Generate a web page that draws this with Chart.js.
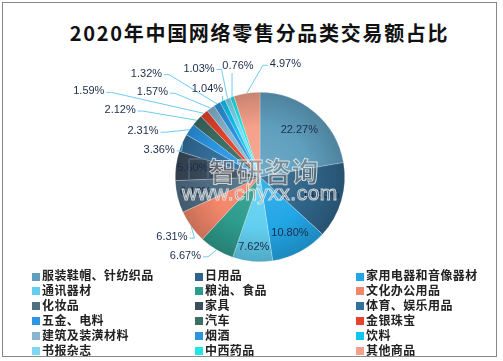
<!DOCTYPE html>
<html>
<head>
<meta charset="utf-8">
<script src="https://cdn.jsdelivr.net/npm/chart.js@4/dist/chart.umd.min.js"></script>
<style>
  html, body { margin: 0; padding: 0; background: #fff; }
  body { width: 503px; height: 361px; position: relative; overflow: hidden; font-family: "Noto Sans CJK SC", sans-serif; }
  .frame { position: absolute; left: 2px; top: 2px; width: 493px; height: 353px; border: 1.5px solid #888; }
  .title { position: absolute; left: 0; width: 519px; top: 19px; text-align: center; font-size: 20px; font-weight: bold; color: #111; letter-spacing: 1.7px; line-height: 28px; }
  #wrap { position: absolute; left: 0; top: 0; width: 503px; height: 268px; }
  .legend-item { position: absolute; font-size: 12px; font-weight: bold; color: #222; white-space: nowrap; line-height: 15px; letter-spacing: 0.4px; }
  .legend-item i { display: inline-block; width: 8px; height: 8px; margin-right: 2px; vertical-align: -0.5px; }
  .wm { position: absolute; color: rgba(120,120,120,0.55); -webkit-text-stroke: 1px rgba(255,255,255,0.7); white-space: nowrap; pointer-events: none; }
  .wm-logo { position: absolute; left: 188px; top: 158px; width: 17px; height: 20px; border: 2px solid rgba(90,110,140,0.55); border-radius: 2px; }
</style>
</head>
<body>
<div class="frame"></div>
<div class="title">2020年中国网络零售分品类交易额占比</div>
<div id="wrap"><canvas id="pie"></canvas></div>
<div class="wm-logo"></div>
<div class="wm" style="left:209px; top:151px; font-size:27px; font-weight:bold; letter-spacing:0.5px;">智研咨询</div>
<div class="wm" style="left:182px; top:181px; font-size:21px; letter-spacing:0.5px; font-family:'Liberation Sans', sans-serif;">www.chyxx.com</div>
<div id="legend"></div>
<script>
// 2020年中国网络零售分品类交易额占比 (%)
const categories = [
  '服装鞋帽、针纺织品', '日用品', '家用电器和音像器材',
  '通讯器材', '粮油、食品', '文化办公用品',
  '化妆品', '家具', '体育、娱乐用品',
  '五金、电料', '汽车', '金银珠宝',
  '建筑及装潢材料', '烟酒', '饮料',
  '书报杂志', '中西药品', '其他商品'
];
const shares = [22.27, 14.53, 10.80, 7.62, 6.67, 6.31, 6.13, 5.60, 3.36, 2.31, 2.12, 1.59, 1.57, 1.32, 1.04, 1.03, 0.76, 4.97];

const colors = [
  '#5f9fbe', '#2f6488', '#22a6e6',
  '#62cff0', '#2e9c8c', '#f2866a',
  '#4f6e82', '#3c4c5c', '#336f9c',
  '#2b97e6', '#3d6e65', '#e5432b',
  '#88b5d0', '#2e93dc', '#14c4f0',
  '#7dd8f2', '#22e5e5', '#f5a08a'
];

// label placement: inside (radius factor) or outside (offset from centre, in radii)
const labelSpots = [
  { r: 0.72 }, { r: 0.75 }, { r: 0.75 }, { r: 0.83 },
  { dx: -0.88, dy: 0.93 }, { dx: -1.04, dy: 0.71 },
  { r: 0.78 }, { r: 0.8 },
  { dx: -1.19, dy: -0.32 }, { dx: -1.38, dy: -0.54 }, { dx: -1.65, dy: -0.79 },
  { dx: -2.02, dy: -1.01 }, { dx: -1.27, dy: -1.0 }, { dx: -1.34, dy: -1.22 },
  { dx: -0.62, dy: -1.04 }, { dx: -0.72, dy: -1.28 }, { dx: -0.26, dy: -1.31 },
  { dx: 0.30, dy: -1.33 }
];

function mix(hex, target, t) {
  const n = parseInt(hex.slice(1), 16);
  const c = [(n >> 16) & 255, (n >> 8) & 255, n & 255].map(v => Math.round(v + (target - v) * t));
  return 'rgb(' + c.join(',') + ')';
}

// shaded slices: lighter near the centre, darker at the rim
function sliceFill(ctx) {
  const chart = ctx.chart;
  const area = chart.chartArea;
  const base = colors[ctx.dataIndex];
  if (!area) return base;
  const cx = (area.left + area.right) / 2;
  const cy = (area.top + area.bottom) / 2;
  const r = Math.min(area.width, area.height) / 2;
  const g = chart.ctx.createRadialGradient(cx, cy, 0, cx, cy, r);
  g.addColorStop(0, mix(base, 255, 0.12));
  g.addColorStop(0.6, base);
  g.addColorStop(1, mix(base, 0, 0.18));
  return g;
}

const pieLabels = {
  id: 'pieLabels',
  afterDatasetsDraw(chart) {
    const ctx = chart.ctx;
    const meta = chart.getDatasetMeta(0);
    ctx.save();
    ctx.font = '11px "Liberation Sans Narrow", "Liberation Sans", sans-serif';
    ctx.textAlign = 'center';
    ctx.textBaseline = 'middle';
    meta.data.forEach((arc, i) => {
      const p = arc.getProps(['x', 'y', 'startAngle', 'endAngle', 'outerRadius'], true);
      const mid = (p.startAngle + p.endAngle) / 2;
      const text = shares[i].toFixed(2) + '%';
      const spot = labelSpots[i];
      ctx.fillStyle = '#1c2c4a';
      if (spot.r) {
        const r = p.outerRadius * spot.r;
        ctx.fillText(text, p.x + Math.cos(mid) * r, p.y + Math.sin(mid) * r);
        return;
      }
      const tx = p.x + spot.dx * p.outerRadius;
      const ty = p.y + spot.dy * p.outerRadius;
      const w = ctx.measureText(text).width;
      const ex = p.x + Math.cos(mid) * p.outerRadius;
      const ey = p.y + Math.sin(mid) * p.outerRadius;
      ctx.beginPath();
      if (ex > tx + w / 2 + 2) {
        ctx.moveTo(tx + w / 2 + 2, ty + 1);
        ctx.lineTo(tx + w / 2 + 7, ty + 1);
      } else if (ex < tx - w / 2 - 2) {
        ctx.moveTo(tx - w / 2 - 2, ty + 1);
        ctx.lineTo(tx - w / 2 - 7, ty + 1);
      } else {
        ctx.moveTo(ex, ty + 7);
      }
      ctx.lineTo(ex, ey);
      ctx.strokeStyle = '#6dccf0';
      ctx.lineWidth = 1;
      ctx.stroke();
      ctx.fillText(text, tx, ty);
    });
    ctx.restore();
  }
};

const chart = new Chart(document.getElementById('pie'), {
  type: 'pie',
  data: {
    labels: categories,
    datasets: [{
      data: shares,
      backgroundColor: sliceFill,
      borderColor: 'rgba(255,255,255,0.45)',
      borderWidth: 0.5,
      hoverOffset: 0
    }]
  },
  options: {
    responsive: true,
    maintainAspectRatio: false,
    animation: false,
    events: [],
    layout: { padding: { left: 175, right: 158, top: 92, bottom: 6 } },
    plugins: {
      legend: { display: false },
      tooltip: { enabled: false },
      title: { display: false }
    }
  },
  plugins: [pieLabels]
});

// legend in three columns, like the original
const legendBox = document.getElementById('legend');
const colX = [32, 195, 356];
categories.forEach((name, i) => {
  const item = document.createElement('div');
  item.className = 'legend-item';
  item.style.left = colX[i % 3] + 'px';
  item.style.top = (267 + Math.floor(i / 3) * 14.9) + 'px';
  item.innerHTML = '<i style="background:' + colors[i] + '"></i>' + name;
  legendBox.appendChild(item);
});
</script>
</body>
</html>
